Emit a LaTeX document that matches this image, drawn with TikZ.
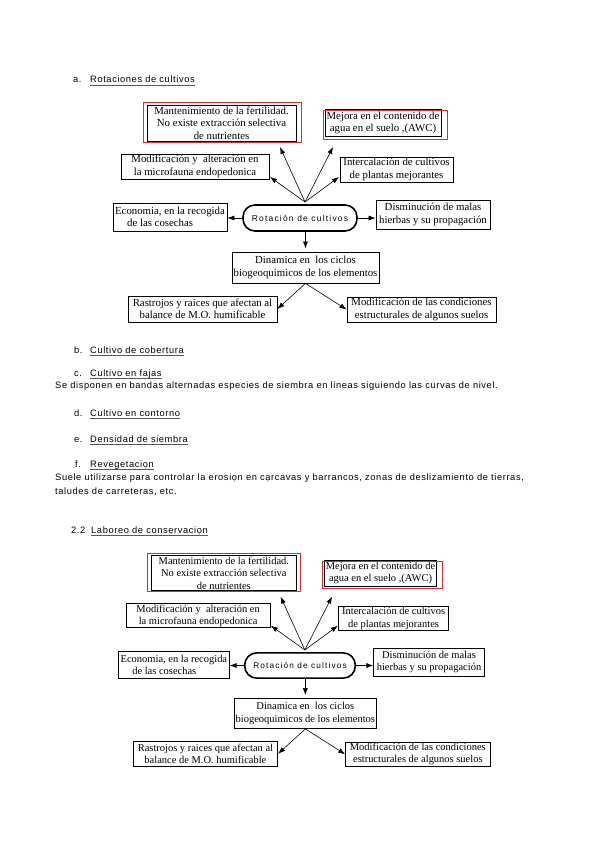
\documentclass[tikz,border=0pt]{standalone}
\usepackage{fontspec}
\setmainfont{Liberation Serif}
\newfontfamily\bodyfont[LetterSpace=6.5]{Liberation Sans}
\newfontfamily\rotfont[LetterSpace=14]{Liberation Sans}
\usetikzlibrary{arrows.meta}
\definecolor{boxred}{RGB}{230,40,40}
\tikzset{
  boxnode/.style={draw=black, line width=0.8pt, inner sep=0pt, align=center,
    font=\fontsize{10.8}{12.5}\selectfont},
  redbox/.style={draw=boxred, line width=1pt},
  arr/.style={-{Latex[length=7pt,width=5pt]}, line width=0.6pt},
  body/.style={anchor=base west, inner sep=0pt, font=\bodyfont\fontsize{9.3}{11}\selectfont},
  ulline/.style={line width=0.8pt, black!65},
}
\newcommand{\rotdiag}[1]{%
  \node[boxnode, minimum width=149pt, minimum height=36pt] (#1mant) at (-78.5,-95)
    {Mantenimiento de la fertilidad.\\No existe extracción selectiva\\de nutrientes};
  \draw[redbox] (-157,-115) rectangle (1,-76);
  \node[boxnode, minimum width=116pt, minimum height=26.5pt] (#1mej) at (83,-95.25)
    {Mejora en el contenido de\\agua en el suelo ,(AWC)};
  \draw[redbox] (23,-107.5) rectangle (147,-79);
  \node[boxnode, minimum width=148pt, minimum height=25pt] (#1modf) at (-105,-51.5)
    {Modificación y\ \ alteración en\\la microfauna endopedonica};
  \node[boxnode, minimum width=113pt, minimum height=25pt] (#1inter) at (96.5,-48.5)
    {Intercalación de cultivos\\de plantas mejorantes};
  \node[boxnode, minimum width=114pt, minimum height=28pt, align=left] (#1econ) at (-130,-1)
    {Economia, en la recogida\\\hspace*{12pt}de las cosechas};
  \node[draw=black, line width=1.6pt, rounded corners=12pt, inner sep=0pt,
    minimum width=114pt, minimum height=26pt, font=\rotfont\fontsize{8.5}{10}\selectfont]
    (#1rot) at (0,0) {Rotación de cultivos};
  \node[boxnode, minimum width=114pt, minimum height=29pt] (#1dism) at (133,-3.5)
    {Disminución de malas\\hierbas y su propagación};
  \node[boxnode, minimum width=147pt, minimum height=31pt] (#1din) at (5.5,49.5)
    {Dinamica en\ \ los ciclos\\biogeoquimicos de los elementos};
  \node[boxnode, minimum width=149pt, minimum height=26pt] (#1rast) at (-97.5,91)
    {Rastrojos y raices que afectan al\\balance de M.O. humificable};
  \node[boxnode, minimum width=149pt, minimum height=25pt] (#1modc) at (121.5,91.5)
    {Modificación de las condiciones\\estructurales de algunos suelos};
  \coordinate (#1hub) at (5,-16);
  \coordinate (#1tmant) at (-20,-71);
  \coordinate (#1tmej) at (33,-71);
  \coordinate (#1tmodf) at (-30,-41);
  \coordinate (#1tinter) at (39,-41);
  \draw[arr] (#1hub) -- (#1tmant);
  \draw[arr] (#1hub) -- (#1tmej);
  \draw[arr] (#1hub) -- (#1tmodf);
  \draw[arr] (#1hub) -- (#1tinter);
  \draw[arr] (#1rot.west) -- (#1econ.east |- #1rot.west);
  \draw[arr] (#1rot.east) -- (#1dism.west |- #1rot.east);
  \draw[arr, shorten >=3pt] (#1din.north |- #1rot.south) -- (#1din.north);
  \draw[arr] (#1din.south) -- (#1rast.east);
  \draw[arr] (#1din.south) -- (#1modc.west);
}
\begin{document}
\begin{tikzpicture}[x=1pt, y=-1pt]
\fill[white] (0,0) rectangle (599,848);
\useasboundingbox (0,0) rectangle (599,848);

\node[body] (la) at (73,83) {a.};
\node[body] (ta) at (90,83) {Rotaciones de cultivos};
\draw[ulline] ([yshift=-2.5pt]ta.base west) -- ([yshift=-2.5pt]ta.base east);

\begin{scope}[shift={(300,218)}]
  \rotdiag{a}
\end{scope}

\node[body] (lb) at (74,353) {b.};
\node[body] (tb) at (90,353) {Cultivo de cobertura};
\draw[ulline] ([yshift=-2.5pt]tb.base west) -- ([yshift=-2.5pt]tb.base east);

\node[body] (lc) at (74,376) {c.};
\node[body] (tc) at (90,376) {Cultivo en fajas};
\draw[ulline] ([yshift=-2.5pt]tc.base west) -- ([yshift=-2.5pt]tc.base east);
\node[body] (pc) at (55,388) {Se disponen en bandas alternadas especies de siembra en lineas siguiendo las curvas de nivel.};

\node[body] (ld) at (74,416) {d.};
\node[body] (td) at (90,416) {Cultivo en contorno};
\draw[ulline] ([yshift=-2.5pt]td.base west) -- ([yshift=-2.5pt]td.base east);

\node[body] (le) at (74,442) {e.};
\node[body] (te) at (90,442) {Densidad de siembra};
\draw[ulline] ([yshift=-2.5pt]te.base west) -- ([yshift=-2.5pt]te.base east);

\node[body] (lf) at (75,467) {f.};
\node[body] (tf) at (90,467) {Revegetaciọn};
\draw[ulline] ([yshift=-2.5pt]tf.base west) -- ([yshift=-2.5pt]tf.base east);
\node[body] (pf1) at (55,480.5) {Suele utilizarse para controlar la erosiọn en cạrcavas y barrancos, zonas de deslizamiento de tierras,};
\node[body] (pf2) at (55,494) {taludes de carreteras, etc.};

\node[body] (l22) at (71,533) {2.2};
\node[body] (t22) at (91,533) {Laboreo de conservaciọn};
\draw[ulline] ([yshift=-2.5pt]t22.base west) -- ([yshift=-2.5pt]t22.base east);

\begin{scope}[shift={(300,665.5)}, scale=0.97, transform shape]
  \rotdiag{b}
\end{scope}
\end{tikzpicture}
\end{document}
